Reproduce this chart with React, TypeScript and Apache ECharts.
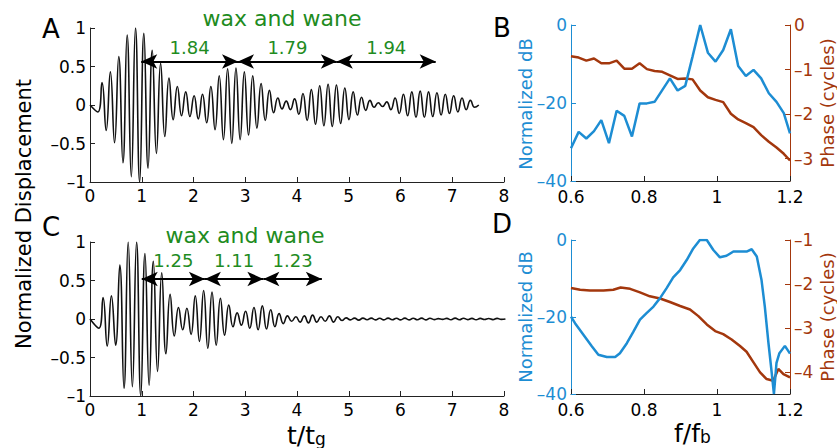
import React, { useEffect, useRef } from 'react';
import * as echarts from 'echarts';

// ---------- Panel A: waveform extrema (sampled every half period) ----------
const A_T0 = 0.0702;
const A_STEP = 0.0809;
const A_EXTREMA = [
  -0.09, 0.29, -0.33, 0.43, -0.49, 0.63, -0.75, 0.91, -0.93, 1.0,
  -1.0, 0.93, -0.82, 0.71, -0.63, 0.54, -0.41, 0.35, -0.19, 0.24,
  -0.14, 0.17, -0.15, 0.12, -0.18, 0.14, -0.23, 0.24, -0.32, 0.38,
  -0.45, 0.47, -0.5, 0.48, -0.45, 0.43, -0.39, 0.38, -0.3, 0.28,
  -0.2, 0.19, -0.1, 0.09, -0.05, 0.05, -0.06, 0.08, -0.12, 0.15,
  -0.2, 0.2, -0.25, 0.25, -0.27, 0.27, -0.28, 0.26, -0.24, 0.22,
  -0.19, 0.17, -0.13, 0.1, -0.07, 0.06, -0.03, 0.03, -0.02, 0.04,
  -0.06, 0.09, -0.11, 0.14, -0.14, 0.17, -0.16, 0.18, -0.16, 0.17,
  -0.15, 0.16, -0.13, 0.14, -0.11, 0.12, -0.09, 0.09, -0.06, 0.06,
  -0.03, 0.0,
];
const A_ARROW_T = [0.99, 2.86, 4.77, 6.68];
const A_ARROW_Y = 0.565;
const A_ARROW_LABELS = ['1.84', '1.79', '1.94'];

// ---------- Panel C ----------
const C_T0 = 0.09;
const C_STEP = 0.081;
const C_EXTREMA = [
  -0.12, 0.28, -0.35, 0.3, -0.34, 0.7, -0.9, 1.0, -0.88, 1.0,
  -1.0, 0.85, -0.86, 0.75, -0.68, 0.6, -0.45, 0.32, -0.22, 0.15,
  -0.14, 0.14, -0.2, 0.3, -0.29, 0.37, -0.38, 0.35, -0.34, 0.27,
  -0.21, 0.18, -0.1, 0.08, -0.08, 0.1, -0.12, 0.15, -0.14, 0.17,
  -0.13, 0.12, -0.1, 0.07, -0.06, 0.04, -0.03, 0.03, -0.04, 0.04,
  -0.05, 0.05, -0.04, 0.03, -0.03, 0.04, -0.04, 0.03, -0.02, 0.015,
  -0.012, 0.012, -0.015, 0.012, -0.01, 0.012, -0.012, 0.01, -0.012, 0.012,
  -0.01, 0.01, -0.012, 0.012, -0.012, 0.01, -0.01, 0.012, -0.012, 0.01,
  -0.008, 0.005, -0.005, 0.008, -0.01, 0.012, -0.01, 0.01, -0.008, 0.008,
  -0.01, 0.008, -0.006, 0.006, -0.008, 0.008, -0.005, 0.0,
];
const C_ARROW_T = [1.0, 2.22, 3.35, 4.48];
const C_ARROW_Y = 0.52;
const C_ARROW_LABELS = ['1.25', '1.11', '1.23'];

// ---------- Panel B ----------
const B_F = [0.6, 0.621, 0.642, 0.663, 0.683, 0.704, 0.725, 0.746, 0.767, 0.788, 0.808, 0.829, 0.85, 0.871, 0.892,
  0.913, 0.933, 0.954, 0.975, 0.996, 1.017, 1.038, 1.058, 1.079, 1.1, 1.121, 1.142, 1.163, 1.183, 1.2];
const B_DB = [-31.6, -27.4, -29.1, -27.2, -24.4, -30.3, -22.0, -23.3, -28.6, -20.1, -20.1, -19.7, -16.7, -13.7, -16.8,
  -15.6, -8.1, 0, -7.1, -9.4, -6.4, -1.1, -10.5, -13.1, -11.5, -13.7, -17.5, -19.7, -22.6, -27.8];
const B_PHASE = [-0.7, -0.73, -0.8, -0.75, -0.86, -0.86, -0.8, -0.98, -0.98, -0.86, -0.99, -1.03, -1.05, -1.13, -1.21,
  -1.2, -1.22, -1.47, -1.62, -1.68, -1.73, -1.99, -2.12, -2.2, -2.29, -2.47, -2.62, -2.75, -2.89, -3.04];

// ---------- Panel D ----------
const D_F = [0.6, 0.611, 0.634, 0.657, 0.675, 0.698, 0.721, 0.734, 0.753, 0.771, 0.789, 0.807, 0.826, 0.844, 0.862,
  0.88, 0.899, 0.917, 0.935, 0.953, 0.972, 0.99, 1.008, 1.026, 1.045, 1.063, 1.081, 1.095, 1.109, 1.122, 1.131,
  1.141, 1.15, 1.156, 1.163, 1.171, 1.186, 1.2];
const D_DB = [-19.9, -21.6, -24.6, -27.6, -29.8, -30.4, -30.4, -29.4, -26.8, -23.8, -20.7, -19.0, -17.3, -15.1, -12.5,
  -9.7, -7.8, -5.2, -2.2, 0, 0, -2.6, -4.5, -4.1, -3.0, -3.0, -3.0, -2.4, -4.3, -10.4, -17.3,
  -26.8, -34.6, -40, -31.9, -29.4, -27.5, -29.5];
const D_PF = [0.6, 0.625, 0.652, 0.689, 0.716, 0.736, 0.762, 0.789, 0.816, 0.844, 0.871, 0.899, 0.926, 0.949, 0.972,
  0.995, 1.017, 1.04, 1.063, 1.081, 1.1, 1.118, 1.136, 1.154, 1.168, 1.182, 1.2];
const D_PHASE = [-2.09, -2.13, -2.15, -2.15, -2.13, -2.08, -2.11, -2.19, -2.28, -2.33, -2.41, -2.5, -2.58, -2.73, -2.92,
  -3.07, -3.14, -3.26, -3.41, -3.54, -3.78, -4.01, -4.16, -4.2, -3.93, -4.05, -4.12];

const B_PHASE_TICKS = [0, -1, -2, -3];
const D_PHASE_TICKS = [-1, -2, -3, -4];

const FONT = 'DejaVu Sans';
const BLUE = '#1d8dd3';
const BROWN = '#a3370d';
const GREEN = '#1f8c1f';
const AXIS = '#222';

const fmt = (v: number) => {
  const s = String(Math.round(v * 1000) / 1000);
  return v < 0 ? '\u2013' + s.slice(1) : s;
};

function wave(t0: number, step: number, ext: number[]) {
  return [[0, 0], ...ext.map((v, k) => [t0 + step * (k + 1), v])];
}

function arrows(ts: number[], y: number, labels: string[]) {
  return labels.map((lab, i) => [
    { name: lab, coord: [ts[i], y] },
    { coord: [ts[i + 1], y] },
  ]);
}

export default function App() {
  const ref = useRef<HTMLDivElement>(null);
  useEffect(() => {
    if (!ref.current) return;
    const chart = echarts.init(ref.current, null, { renderer: 'svg' });

    const timeX = (gridIndex: number) => ({
      type: 'value', gridIndex, min: 0, max: 8, interval: 1,
      axisLine: { show: true, onZero: false, lineStyle: { color: AXIS, width: 1 } },
      axisTick: { show: true, inside: true, length: 5, lineStyle: { color: AXIS } },
      axisLabel: { color: '#000', fontSize: 17, fontFamily: FONT, margin: 5 },
      splitLine: { show: false },
    });
    const ampY = (gridIndex: number) => ({
      type: 'value', gridIndex, min: -1, max: 1, interval: 0.5,
      axisLine: { show: true, onZero: false, lineStyle: { color: AXIS, width: 1 } },
      axisTick: { show: true, inside: true, length: 5, lineStyle: { color: AXIS } },
      axisLabel: { color: '#000', fontSize: 17, fontFamily: FONT, margin: 4, formatter: fmt },
      splitLine: { show: false },
    });
    const freqX = (gridIndex: number) => ({
      type: 'value', gridIndex, min: 0.6, max: 1.2, interval: 0.2,
      axisLine: { show: true, onZero: false, lineStyle: { color: AXIS, width: 1 } },
      axisTick: { show: true, inside: true, length: 5, lineStyle: { color: AXIS } },
      axisLabel: { color: '#000', fontSize: 17, fontFamily: FONT, margin: 7, formatter: fmt },
      splitLine: { show: false },
    });
    const dbY = (gridIndex: number) => ({
      type: 'value', gridIndex, position: 'left', min: -40, max: 0, interval: 20,
      axisLine: { show: true, onZero: false, lineStyle: { color: BLUE, width: 1 } },
      axisTick: { show: true, inside: true, length: 5, lineStyle: { color: BLUE } },
      axisLabel: { color: BLUE, fontSize: 17, fontFamily: FONT, margin: 4, formatter: fmt },
      splitLine: { show: false },
    });
    const phaseY = (gridIndex: number, min: number, max: number, ticks: number[]) => ({
      type: 'value', gridIndex, position: 'right', min, max, interval: 1,
      axisLine: { show: true, onZero: false, lineStyle: { color: BROWN, width: 1 } },
      axisTick: { show: true, inside: true, length: 5, lineStyle: { color: BROWN }, customValues: ticks },
      axisLabel: { color: BROWN, fontSize: 17, fontFamily: FONT, margin: 4, formatter: fmt, customValues: ticks },
      splitLine: { show: false },
    });

    const markArrows = (ts: number[], y: number, labels: string[], dist: number) => ({
      silent: true,
      symbol: ['arrow', 'arrow'],
      symbolSize: [11, 16],
      lineStyle: { color: '#000', width: 2, type: 'solid' },
      label: {
        show: true, position: 'middle', formatter: (p: any) => p.name,
        color: GREEN, fontSize: 18, fontFamily: FONT, distance: dist,
      },
      emphasis: { disabled: true },
      data: arrows(ts, y, labels),
    });

    const option: any = {
      animation: false,
      backgroundColor: '#fff',
      textStyle: { fontFamily: FONT },
      grid: [
        { left: 90, top: 28, width: 414, height: 154 },
        { left: 90, top: 242, width: 414, height: 154 },
        { left: 571, top: 25, width: 219, height: 156 },
        { left: 571, top: 240, width: 219, height: 154 },
      ],
      xAxis: [timeX(0), timeX(1), freqX(2), freqX(3)],
      yAxis: [
        ampY(0), ampY(1),
        dbY(2), phaseY(2, -3.5, 0, B_PHASE_TICKS),
        dbY(3), phaseY(3, -4.5, -1, D_PHASE_TICKS),
      ],
      series: [
        {
          type: 'line', xAxisIndex: 0, yAxisIndex: 0, showSymbol: false, smooth: 0.5,
          lineStyle: { color: '#111', width: 1.6 },
          data: wave(A_T0, A_STEP, A_EXTREMA),
          markLine: markArrows(A_ARROW_T, A_ARROW_Y, A_ARROW_LABELS, 5),
        },
        {
          type: 'line', xAxisIndex: 1, yAxisIndex: 1, showSymbol: false, smooth: 0.5,
          lineStyle: { color: '#111', width: 1.6 },
          data: wave(C_T0, C_STEP, C_EXTREMA),
          markLine: markArrows(C_ARROW_T, C_ARROW_Y, C_ARROW_LABELS, 9),
        },
        {
          type: 'line', xAxisIndex: 2, yAxisIndex: 3, showSymbol: false, z: 2,
          lineStyle: { color: BROWN, width: 2.5 },
          data: B_F.map((f, i) => [f, B_PHASE[i]]),
        },
        {
          type: 'line', xAxisIndex: 2, yAxisIndex: 2, showSymbol: false, z: 3,
          lineStyle: { color: BLUE, width: 2.5 },
          data: B_F.map((f, i) => [f, B_DB[i]]),
        },
        {
          type: 'line', xAxisIndex: 3, yAxisIndex: 5, showSymbol: false, z: 2,
          lineStyle: { color: BROWN, width: 2.5 },
          data: D_PF.map((f, i) => [f, D_PHASE[i]]),
        },
        {
          type: 'line', xAxisIndex: 3, yAxisIndex: 4, showSymbol: false, z: 3,
          lineStyle: { color: BLUE, width: 2.5 },
          data: D_F.map((f, i) => [f, D_DB[i]]),
        },
      ],
      graphic: [
        { type: 'text', x: 51, y: 29, style: { text: 'A', font: `26px "${FONT}"`, fill: '#000', align: 'center', verticalAlign: 'middle' } },
        { type: 'text', x: 502, y: 28, style: { text: 'B', font: `26px "${FONT}"`, fill: '#000', align: 'center', verticalAlign: 'middle' } },
        { type: 'text', x: 51, y: 227, style: { text: 'C', font: `26px "${FONT}"`, fill: '#000', align: 'center', verticalAlign: 'middle' } },
        { type: 'text', x: 502, y: 224, style: { text: 'D', font: `26px "${FONT}"`, fill: '#000', align: 'center', verticalAlign: 'middle' } },
        { type: 'text', x: 282, y: 18, style: { text: 'wax and wane', font: `22px "${FONT}"`, fill: GREEN, align: 'center', verticalAlign: 'middle' } },
        { type: 'text', x: 245, y: 235, style: { text: 'wax and wane', font: `22px "${FONT}"`, fill: GREEN, align: 'center', verticalAlign: 'middle' } },
        { type: 'text', x: 24, y: 214, rotation: Math.PI / 2, style: { text: 'Normalized Displacement', font: `21px "${FONT}"`, fill: '#000', align: 'center', verticalAlign: 'middle' } },
        { type: 'text', x: 315, y: 435, style: { text: 't/t', font: `25px "${FONT}"`, fill: '#000', align: 'right', verticalAlign: 'middle' } },
        { type: 'text', x: 315, y: 439, style: { text: 'g', font: `17px "${FONT}"`, fill: '#000', align: 'left', verticalAlign: 'middle' } },
        { type: 'text', x: 700, y: 433, style: { text: 'f/f', font: `25px "${FONT}"`, fill: '#000', align: 'right', verticalAlign: 'middle' } },
        { type: 'text', x: 700, y: 437, style: { text: 'b', font: `17px "${FONT}"`, fill: '#000', align: 'left', verticalAlign: 'middle' } },
        { type: 'text', x: 525, y: 104, rotation: Math.PI / 2, style: { text: 'Normalized dB', font: `18px "${FONT}"`, fill: BLUE, align: 'center', verticalAlign: 'middle' } },
        { type: 'text', x: 525, y: 317, rotation: Math.PI / 2, style: { text: 'Normalized dB', font: `18px "${FONT}"`, fill: BLUE, align: 'center', verticalAlign: 'middle' } },
        { type: 'text', x: 827, y: 103, rotation: Math.PI / 2, style: { text: 'Phase (cycles)', font: `18px "${FONT}"`, fill: BROWN, align: 'center', verticalAlign: 'middle' } },
        { type: 'text', x: 827, y: 317, rotation: Math.PI / 2, style: { text: 'Phase (cycles)', font: `18px "${FONT}"`, fill: BROWN, align: 'center', verticalAlign: 'middle' } },
      ],
    };

    chart.setOption(option);
    return () => chart.dispose();
  }, []);

  return <div ref={ref} style={{ position: 'fixed', left: 0, top: 0, width: 837, height: 448 }} />;
}
